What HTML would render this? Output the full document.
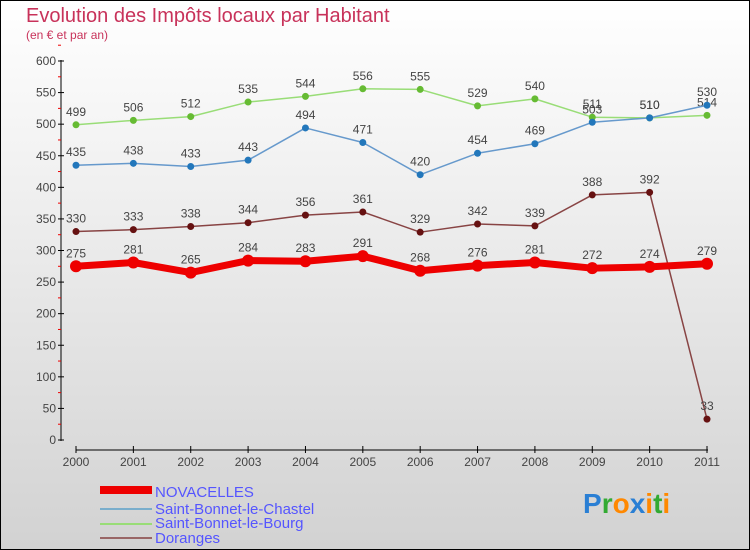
<!DOCTYPE html>
<html><head><meta charset="utf-8"><style>
body{margin:0;width:750px;height:550px;overflow:hidden;font-family:"Liberation Sans",sans-serif}
svg{display:block}
</style></head><body>
<svg id="c" width="750" height="550" xmlns="http://www.w3.org/2000/svg">
<defs><linearGradient id="bg" x1="0" y1="0" x2="0" y2="1"><stop offset="0" stop-color="#ffffff"/><stop offset="1" stop-color="#d2d2d2"/></linearGradient></defs>
<rect x="0.5" y="0.5" width="749" height="549" fill="url(#bg)" stroke="#000"/>
<text x="26" y="22" font-size="20" fill="#c8325a">Evolution des Impôts locaux par Habitant</text>
<text x="26" y="39" font-size="12" fill="#c8325a">(en € et par an)</text>
<g id="axes"></g><g id="series"></g>
<g>
<rect x="100" y="486" width="52" height="8" fill="#ee0000"/>
<text x="155" y="497" font-size="15" fill="#5555ff">NOVACELLES</text>
<rect x="100" y="508" width="52" height="2" fill="#7aaecc"/>
<text x="155" y="514" font-size="15" fill="#5555ff">Saint-Bonnet-le-Chastel</text>
<rect x="100" y="523" width="52" height="2" fill="#99dd77"/>
<text x="155" y="528" font-size="15" fill="#5555ff">Saint-Bonnet-le-Bourg</text>
<rect x="100" y="537" width="52" height="2" fill="#996666"/>
<text x="155" y="543" font-size="15" fill="#5555ff">Doranges</text>
</g>
<g font-size="28" font-weight="bold">
<text x="583" y="513"><tspan fill="#2a7fd4">P</tspan><tspan fill="#33aa33">r</tspan><tspan fill="#ff8800">o</tspan><tspan fill="#2a7fd4">x</tspan><tspan fill="#ff8800">i</tspan><tspan fill="#33aa33">t</tspan><tspan fill="#ff8800">i</tspan></text>
</g>
</svg>
<script>
const years=["2000","2001","2002","2003","2004","2005","2006","2007","2008","2009","2010","2011"];
const novacelles=[275,281,265,284,283,291,268,276,281,272,274,279];
const chastel=[435,438,433,443,494,471,420,454,469,503,510,530];
const bourg=[499,506,512,535,544,556,555,529,540,511,510,514];
const doranges=[330,333,338,344,356,361,329,342,339,388,392,33];
const yTicks=[0,50,100,150,200,250,300,350,400,450,500,550,600];
const NS="http://www.w3.org/2000/svg";
const xs=i=>76+i*(707-76)/11;
const ys=v=>440-v*(379/600);
function mk(t,a,p){const e=document.createElementNS(NS,t);for(const k in a)e.setAttribute(k,a[k]);p.appendChild(e);return e;}
const ax=document.getElementById('axes');
let e=mk('line',{x1:61,y1:60,x2:61,y2:441,stroke:'#000'},ax);


yTicks.forEach(v=>{
 mk('line',{x1:58,x2:64,y1:ys(v),y2:ys(v),stroke:'#000'},ax);
 mk('line',{x1:58,x2:61,y1:ys(v+25),y2:ys(v+25),stroke:'#e00'},ax);
 const t=mk('text',{x:56,y:ys(v)+4,'text-anchor':'end','font-size':12,fill:'#444'},ax);
 t.textContent=v;
 
 
});
e=mk('line',{x1:76,y1:450,x2:708,y2:450,stroke:'#000'},ax);


years.forEach((y,i)=>{
 mk('line',{x1:xs(i),x2:xs(i),y1:446,y2:453,stroke:'#000'},ax);
 const t=mk('text',{x:xs(i),y:466,'text-anchor':'middle','font-size':12,fill:'#444'},ax);
 t.textContent=y;
 
 
});
const sg=document.getElementById('series');
function series(vals,name,line,dot,w,r){
 const g=mk('g',{},sg);
 
 
 mk('polyline',{points:vals.map((v,i)=>xs(i)+','+ys(v)).join(' '),fill:'none',stroke:line,'stroke-width':w,'stroke-linejoin':'round'},g);
 vals.forEach((v,i)=>{
  const c=mk('circle',{cx:xs(i),cy:ys(v),r:r,fill:dot},g);
  
  
  const t=mk('text',{x:xs(i),y:ys(v)-9,'text-anchor':'middle','font-size':12,fill:'#444'},g);
  t.textContent=v;
  
  
 });
}
series(doranges,'doranges','#884444','#661111',1.5,3.5);
series(bourg,'bourg','#99dd77','#66bb33',1.5,3.5);
series(chastel,'chastel','#6699cc','#2277bb',1.5,3.5);
series(novacelles,'novacelles','#ee0000','#ee0000',7,6);
</script>
</body></html>
